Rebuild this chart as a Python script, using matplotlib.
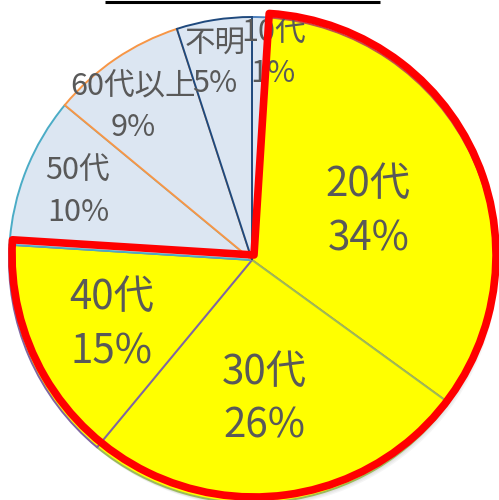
import numpy as np
import matplotlib
matplotlib.use("Agg")
import matplotlib.pyplot as plt
from matplotlib.patches import Wedge, Circle

plt.rcParams['font.family'] = ['Noto Sans CJK JP', 'DejaVu Sans']

categories = ["10代", "20代", "30代", "40代", "50代", "60代以上", "不明"]
values = [1, 34, 26, 15, 10, 9, 5]
percent_labels = ["1%", "34%", "26%", "15%", "10%", "9%", "5%"]
highlight = [False, True, True, True, False, False, False]

fill_hi = "#FFFF00"
fill_lo = "#DCE6F2"
edge_colors = ["#4F81BD", "#C0504D", "#9BBB59", "#8064A2", "#4BACC6", "#F79646", "#1F497D"]
label_frac = [0.87, 0.525, 0.56, 0.63, 0.775, 0.81, 0.84]
label_dang = [-4, -1, -2, 0, -0.8, 3, 1.4]
label_size = [22, 29, 29, 29, 22, 22, 22]

W, H = 499, 500
fig = plt.figure(figsize=(W / 100, H / 100), dpi=100)
ax = fig.add_axes([0, 0, 1, 1])
ax.set_xlim(0, W)
ax.set_ylim(0, H)
ax.set_aspect('equal')
ax.axis('off')

cx, cy, R = 252, 240, 243

# soft shadow
for i, a in enumerate([0.04, 0.04, 0.04]):
    ax.add_patch(Circle((cx + 1 + i, cy - 2 - i), R, facecolor='black', alpha=a,
                        edgecolor='none', zorder=0))

colors = [fill_hi if h else fill_lo for h in highlight]
wedges, _ = ax.pie(values, colors=colors, startangle=90, counterclock=False,
                   center=(cx, cy), radius=R, frame=True,
                   wedgeprops=dict(linewidth=1.4))
for w, ec in zip(wedges, edge_colors):
    w.set_edgecolor(ec)
    w.set_zorder(1)
ax.set_xlim(0, W)
ax.set_ylim(0, H)
ax.axis('off')

total = sum(values)
cum = 0
for i, v in enumerate(values):
    mid = 90 - 360 * (cum + v / 2) / total + label_dang[i]
    cum += v
    r = R * label_frac[i]
    x = cx + r * np.cos(np.radians(mid))
    y = cy + r * np.sin(np.radians(mid)) - 4
    ax.text(x, y, f"{categories[i]}\n{percent_labels[i]}", ha='center', va='center',
            fontsize=label_size[i], color='#595959', linespacing=1.4, zorder=3)

# red outline around highlighted group
idx = [i for i, h in enumerate(highlight) if h]
t_start = wedges[idx[-1]].theta1
t_end = wedges[idx[0]].theta2
ax.add_patch(Wedge((cx + 2, cy + 5), R - 1, t_start, t_end, facecolor='none',
                   edgecolor='#FF0000', linewidth=5.5, joinstyle='round', zorder=4))

# top line
ax.plot([105, 380], [H - 1.5, H - 1.5], color='black', linewidth=2.2, zorder=5,
        solid_capstyle='butt')

fig.savefig("out.png", dpi=100)
